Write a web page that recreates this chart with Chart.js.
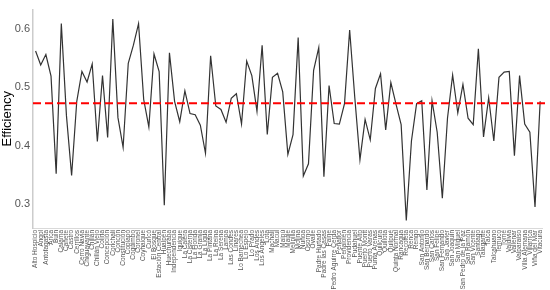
<!DOCTYPE html>
<html>
<head>
<meta charset="utf-8">
<script src="https://cdn.jsdelivr.net/npm/chart.js@4"></script>
<style>
html,body{margin:0;padding:0;background:#fff}
#wrap{width:550px;height:290px}
</style>
</head>
<body>
<div id="wrap"><canvas id="EffChart"></canvas></div>
<script>
// data
const communes=["Alto Hospicio","Angol","Antofagasta","Arica","Buin","Calama","Cañete","Castro","Cerrillos","Cerro Navia","Chiguayante","Chillán","Chillán Viejo","Colina","Concepción","Conchalí","Concón","Constitución","Copiapó","Coquimbo","Coronel","Coyhaique","Curicó","El Bosque","Estación Central","Hualpén","Huechuraba","Independencia","Iquique","La Calera","La Cisterna","La Florida","La Granja","La Ligua","La Pintana","La Reina","La Serena","Lampa","Las Condes","Linares","Lo Barnechea","Lo Espejo","Lo Prado","Los Andes","Los Ángeles","Lota","Machalí","Macul","Maipú","Maule","Melipilla","Molina","Ñuñoa","Osorno","Ovalle","Padre Hurtado","Padre las Casas","Paine","Pedro Aguirre Cerda","Peñaflor","Peñalolén","Providencia","Pudahuel","Puente Alto","Puerto Montt","Puerto Varas","Punta Arenas","Quilicura","Quillota","Quilpué","Quinta Normal","Rancagua","Recoleta","Renca","Rengo","San Antonio","San Bernardo","San Carlos","San Felipe","San Fernando","San Javier","San Joaquín","San Miguel","San Pedro de la Paz","San Ramón","San Vicente","Santiago","Talagante","Talca","Talcahuano","Temuco","Tomé","Valdivia","Vallenar","Valparaíso","Villa Alemana","Villarrica","Viña del Mar","Vitacura"]
const efficiency=[0.562,0.538,0.556,0.519,0.352,0.609,0.451,0.349,0.476,0.527,0.509,0.540,0.407,0.520,0.414,0.617,0.448,0.397,0.541,0.572,
0.609,0.479,0.432,0.557,0.527,0.298,0.559,0.476,0.441,0.494,0.455,0.453,0.435,0.387,0.554,0.468,0.462,0.440,0.481,0.489,
0.437,0.545,0.520,0.459,0.572,0.419,0.517,0.524,0.492,0.385,0.419,0.585,0.348,0.369,0.529,0.568,0.347,0.503,0.438,0.437,
0.472,0.598,0.482,0.376,0.445,0.410,0.498,0.523,0.427,0.508,0.471,0.436,0.272,0.408,0.472,0.477,0.324,0.477,0.423,0.310,
0.447,0.521,0.456,0.505,0.447,0.436,0.566,0.415,0.482,0.408,0.517,0.526,0.527,0.383,0.520,0.437,0.423,0.295,0.476]
const meanEff=0.4725
const yTicks=[0.3,0.4,0.5,0.6]

// mean line plugin
const meanLinePlugin={id:'meanLine',afterDatasetsDraw(chart){
	const c=chart.ctx,a=chart.chartArea,y=chart.scales.y.getPixelForValue(meanEff)
	c.save();c.strokeStyle='#ff0000';c.lineWidth=2;c.setLineDash([8,4])
	c.beginPath();c.moveTo(a.left,y);c.lineTo(a.right+5,y);c.stroke();c.restore()
}}

new Chart(document.getElementById('EffChart'),{
	type:'line',
	plugins:[meanLinePlugin],
	data:{labels:communes,datasets:[{data:efficiency,borderColor:'#333333',borderWidth:1.2,pointRadius:0,tension:0,fill:false}]},
	options:{
		responsive:true,maintainAspectRatio:false,animation:false,
		layout:{padding:{top:8,right:7,left:0,bottom:0}},
		plugins:{legend:{display:false},tooltip:{enabled:false}},
		scales:{
			x:{type:'category',offset:true,
				grid:{display:false,drawTicks:false},
				border:{display:true,color:'#d9d9d9',width:1},
				ticks:{autoSkip:false,maxRotation:90,minRotation:90,padding:2,color:'#555',font:{family:'Liberation Sans',size:6.5}},
				afterFit(s){s.height=62}
			},
			y:{min:0.259,max:0.633,
				afterBuildTicks(s){s.ticks=yTicks.map(v=>({value:v}))},
				grid:{display:false,drawTicks:false},
				border:{display:true,color:'#cccccc',width:1.5},
				title:{display:true,text:'Efficiency',color:'#000',padding:{top:0,bottom:5},font:{family:'Liberation Sans',size:13}},
				ticks:{color:'#555',padding:3,font:{family:'Liberation Sans',size:11},callback:v=>v.toFixed(1)},
				afterFit(s){s.width=33}
			}
		}
	}
})
</script>
</body>
</html>
